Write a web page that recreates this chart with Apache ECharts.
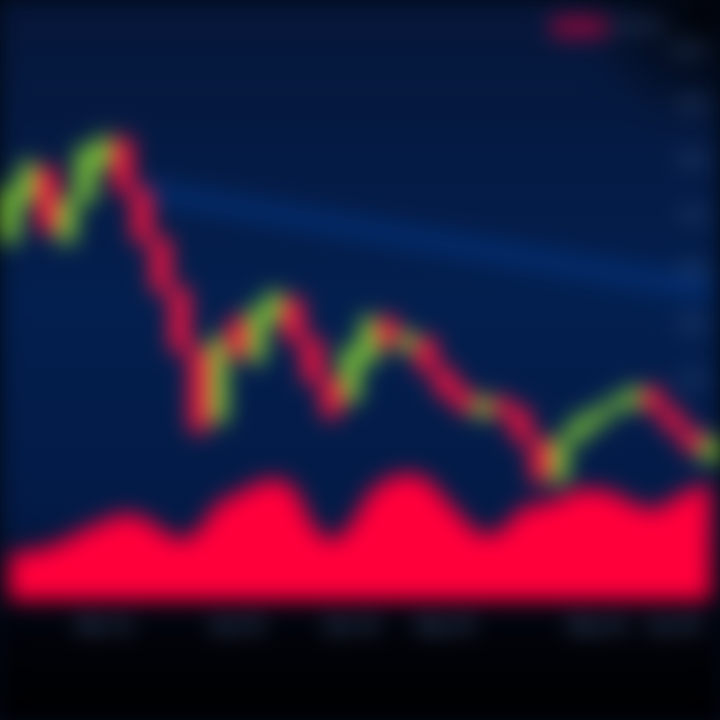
<!DOCTYPE html>
<html>
<head>
<meta charset="utf-8">
<script src="https://cdn.jsdelivr.net/npm/echarts@6/dist/echarts.min.js"></script>
<style>
  html, body { margin: 0; padding: 0; background: #020814; overflow: hidden; }
  #chart {
    width: 720px; height: 720px;
    background:
      radial-gradient(circle at 100% 0%, #000000 0px, rgba(0,0,0,0) 140px),
      linear-gradient(180deg, #081634 0%, #061f48 42%, #061a40 72%, #030c22 81%, #010309 87%, #000000 100%);
    filter: blur(11px) saturate(1.15);
  }
</style>
</head>
<body>
<div id="chart"></div>
<script>
// category labels (dates, unreadable in reference -> placeholders)
const categories = ['D1','D2','D3','D4','D5','Mar 12','D7','D8','D9','D10','D11','D12','Apr 02','D14','D15','D16','D17','D18','Apr 18','D20','D21','D22','D23','May 03','D25','D26','D27','D28','D29','D30','D31','May 24','D33','D34','D35','Jun 04','D37','D38'];
const labelIndices = [5, 12, 18, 23, 31, 35];
// candles: [open, close, low, high]
const candles = [
  [65.5,74.5,63.5,76.5],[72.7,79.1,71,81],[78.2,67.3,65.5,80],[65.5,72.7,63.6,74.5],
  [72.7,81.8,71,83.6],[79.1,83.6,78,86],[83.6,74.5,73,85.5],[74.5,65.5,64,76],
  [65.5,56.4,55,67],[56.4,45.5,44,58],[45.5,30.9,29,47],[32.7,47.3,31,49],
  [50.9,44.5,43,52.7],[43.6,52.7,42,54.5],[50.9,55.5,49,57],[54.5,47.3,46,56],
  [47.3,40,38.5,49],[40,33.6,32,41.8],[36.4,45.5,35,47],[43.6,50.9,42,52.7],
  [50.9,46.4,45,52.5],[45.5,48.2,44.5,49.5],[47.3,41.8,40.5,48.5],[41.8,37.3,36,43],
  [38.2,34.5,33.5,39.5],[33.6,36.4,32.5,37.5],[36.4,33.6,32.5,37.5],[34.5,29.1,28,35.5],
  [29.1,21.8,20,30.5],[21.8,29.1,20.5,30.5],[29.1,32.7,28,34],[31.8,34.5,31,35.5],
  [34.5,36.4,33.5,37.5],[35.5,38.2,34.5,39.5],[38.2,34.5,33.5,39.5],[34.5,30.9,30,35.5],
  [30.9,27.3,26,32],[25.5,29.1,24.5,30]
];
const volume = [45,48,52,60,70,78,85,82,70,60,70,95,105,115,120,110,75,60,75,105,120,125,120,100,80,65,70,90,95,100,110,110,105,95,90,100,110,115];
const trendLine = [null,null,null,null,null,null,null,74.5,null,null,null,null,null,null,null,null,null,null,null,null,null,null,null,null,null,null,null,null,null,null,null,null,null,null,null,null,null,56.4];
const priceTicks = {min: 0, max: 100, interval: 10, showFrom: 30};

const chart = echarts.init(document.getElementById('chart'), null, {renderer: 'canvas'});
chart.setOption({
  backgroundColor: 'transparent',
  animation: false,
  legend: {
    data: [{name: 'Volume', itemStyle: {color: '#7c0c38'}}],
    left: 546, top: 12,
    icon: 'roundRect', itemWidth: 56, itemHeight: 20,
    textStyle: {color: '#56688a', fontSize: 16, padding: [30, 0, 0, 0]}
  },
  grid: [
    {left: -10, right: -10, top: 50, height: 550},
    {left: -10, right: -10, top: 440, height: 160}
  ],
  xAxis: [
    {type: 'category', data: categories, gridIndex: 0, boundaryGap: true,
     axisLine: {show: false}, axisTick: {show: false}, axisLabel: {show: false}, splitLine: {show: false}},
    {type: 'category', data: categories, gridIndex: 1, boundaryGap: true,
     axisLine: {show: false}, axisTick: {show: false}, splitLine: {show: false},
     axisLabel: {
       margin: 18, color: '#5a6d8e', fontSize: 17, fontWeight: 'bold',
       interval: (i) => labelIndices.indexOf(i) >= 0
     }}
  ],
  yAxis: [
    {type: 'value', gridIndex: 0, position: 'right', min: priceTicks.min, max: priceTicks.max, interval: priceTicks.interval,
     axisLine: {show: false}, axisTick: {show: false}, splitLine: {show: false},
     axisLabel: {inside: true, margin: 12, color: '#4a6288', fontSize: 15, fontWeight: 'bold',
       formatter: (v) => v >= priceTicks.showFrom ? v.toFixed(1) : ''}},
    {type: 'value', gridIndex: 1, min: 0, max: 160, show: false}
  ],
  series: [
    {
      name: 'Trend', type: 'line', xAxisIndex: 0, yAxisIndex: 0, data: trendLine,
      connectNulls: true, symbol: 'none', z: 1,
      lineStyle: {color: '#0b3a80', width: 26, opacity: 0.45}
    },
    {
      name: 'Volume', type: 'line', xAxisIndex: 1, yAxisIndex: 1, data: volume,
      smooth: 0.45, symbol: 'none', z: 2,
      itemStyle: {color: '#ee0a3e'},
      lineStyle: {color: '#e0083c', width: 2},
      areaStyle: {color: '#e6053b', opacity: 1}
    },
    {
      name: 'Price', type: 'candlestick', xAxisIndex: 0, yAxisIndex: 0, data: candles,
      barWidth: 18, z: 3,
      itemStyle: {
        color: '#86c446', color0: '#ec1840',
        borderColor: '#86c446', borderColor0: '#ec1840', borderWidth: 2
      }
    }
  ]
});
</script>
</body>
</html>
